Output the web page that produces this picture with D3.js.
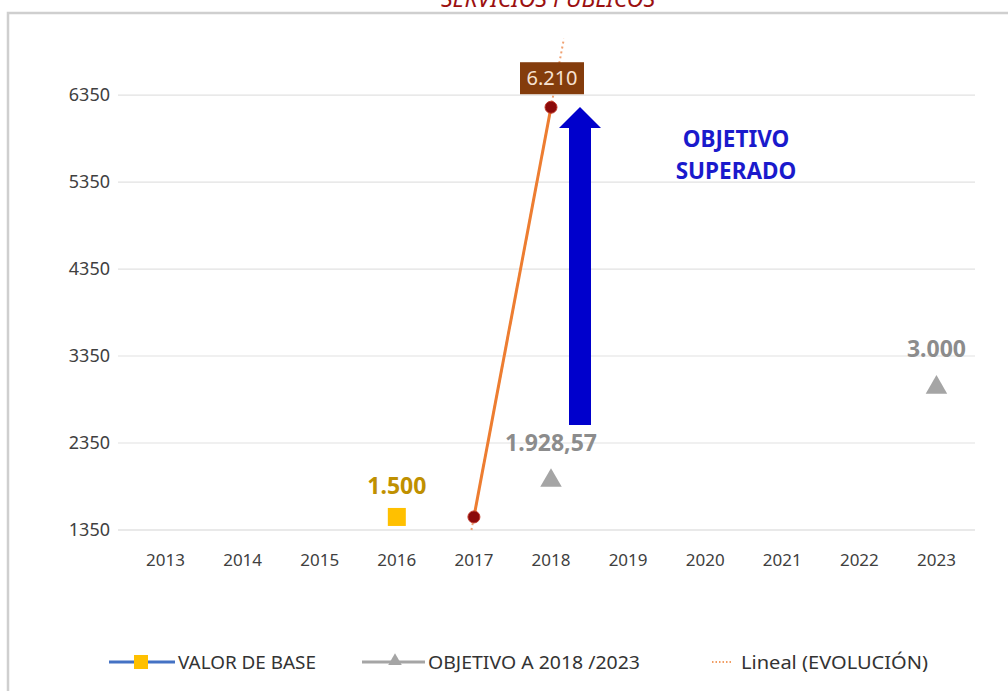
<!DOCTYPE html>
<html>
<head>
<meta charset="utf-8">
<script src="https://cdn.jsdelivr.net/npm/d3@7/dist/d3.min.js"></script>
<style>
  body { margin: 0; background: #fff; }
  text { font-family: "Noto Sans", "Open Sans", sans-serif; }
</style>
</head>
<body>
<div id="chart"></div>
<script>
var years = ["2013","2014","2015","2016","2017","2018","2019","2020","2021","2022","2023"];
var yTicks = [1350, 2350, 3350, 4350, 5350, 6350];
var baseValue = [{year: "2016", value: 1500, label: "1.500"}];
var targets = [{year: "2018", value: 1928.57, label: "1.928,57"}, {year: "2023", value: 3000, label: "3.000"}];
var evolution = [{year: "2017", value: 1500}, {year: "2018", value: 6210, label: "6.210"}];
var legendItems = ["VALOR DE BASE", "OBJETIVO A 2018 /2023", "Lineal (EVOLUCIÓN)"];

var width = 1008, height = 691;

var svg = d3.select("#chart").append("svg")
    .attr("width", width)
    .attr("height", height);

// chart frame
svg.append("rect")
    .attr("x", 8).attr("y", 13)
    .attr("width", 1010).attr("height", 700)
    .attr("fill", "#fff")
    .attr("stroke", "#cfcfcf")
    .attr("stroke-width", 2.5);

// title, cut at the top like the original
svg.append("text")
    .attr("x", 548).attr("y", 7)
    .attr("text-anchor", "middle")
    .attr("fill", "#9b1010")
    .attr("font-family", "Liberation Sans, Arial, sans-serif")
    .attr("font-style", "italic")
    .attr("font-size", 23)
    .text("SERVICIOS PÚBLICOS");

var x = d3.scaleBand().domain(years).range([127, 975]);
var xl = d3.scaleLinear().domain([2012.5, 2023.5]).range([127, 975]);
var y = d3.scaleLinear().domain([1350, 7000]).range([530, 38.5]);
function cx(yr) { return x(yr) + x.bandwidth() / 2; }

// gridlines
svg.append("g")
  .selectAll("line")
  .data(yTicks)
  .enter().append("line")
    .attr("x1", 118).attr("x2", 975)
    .attr("y1", function(d) { return y(d); })
    .attr("y2", function(d) { return y(d); })
    .attr("stroke", function(d) { return d === 1350 ? "#d4d4d4" : "#e2e2e2"; })
    .attr("stroke-width", 1.2);

// y labels
svg.append("g")
  .selectAll("text")
  .data(yTicks)
  .enter().append("text")
    .attr("x", 110)
    .attr("y", function(d) { return y(d) + 6; })
    .attr("text-anchor", "end")
    .attr("font-size", 18)
    .attr("fill", "#404040")
    .text(function(d) { return d; });

// x labels
svg.append("g")
  .selectAll("text")
  .data(years)
  .enter().append("text")
    .attr("x", function(d) { return cx(d); })
    .attr("y", 566)
    .attr("text-anchor", "middle")
    .attr("font-size", 17)
    .attr("fill", "#404040")
    .text(function(d) { return d; });

// linear trend (dotted) through the evolution points
var p0 = evolution[0], p1 = evolution[1];
var slope = (p1.value - p0.value) / (+p1.year - +p0.year);
var tStart = +p0.year + (y.domain()[0] - p0.value) / slope;
var tEnd = +p0.year + (y.domain()[1] - p0.value) / slope;
svg.append("line")
    .attr("x1", xl(tStart)).attr("y1", y(y.domain()[0]))
    .attr("x2", xl(tEnd)).attr("y2", y(y.domain()[1]))
    .attr("stroke", "#f0a070")
    .attr("stroke-width", 2)
    .attr("stroke-dasharray", "2,3");

// evolution line
svg.append("path")
    .datum(evolution)
    .attr("fill", "none")
    .attr("stroke", "#ed7d31")
    .attr("stroke-width", 3)
    .attr("d", d3.line()
        .x(function(d) { return cx(d.year); })
        .y(function(d) { return y(d.value); }));

svg.append("g")
  .selectAll("circle")
  .data(evolution)
  .enter().append("circle")
    .attr("cx", function(d) { return cx(d.year); })
    .attr("cy", function(d) { return y(d.value); })
    .attr("r", 6)
    .attr("fill", "#8b0a0a")
    .attr("stroke", "#c0392b")
    .attr("stroke-width", 1);

// 6.210 label box
var last = evolution[1];
svg.append("rect")
    .attr("x", cx(last.year) - 31).attr("y", y(last.value) - 45)
    .attr("width", 64).attr("height", 32)
    .attr("fill", "#843c0c");
svg.append("text")
    .attr("x", cx(last.year) + 1).attr("y", y(last.value) - 22)
    .attr("text-anchor", "middle")
    .attr("font-size", 20)
    .attr("fill", "#f7e2d2")
    .text(last.label);

// base value square
svg.append("g")
  .selectAll("rect")
  .data(baseValue)
  .enter().append("rect")
    .attr("x", function(d) { return cx(d.year) - 9; })
    .attr("y", function(d) { return y(d.value) - 9; })
    .attr("width", 18).attr("height", 18)
    .attr("fill", "#ffc000");
svg.append("g")
  .selectAll("text")
  .data(baseValue)
  .enter().append("text")
    .attr("x", function(d) { return cx(d.year); })
    .attr("y", function(d) { return y(d.value) - 23; })
    .attr("text-anchor", "middle")
    .attr("font-size", 23)
    .attr("font-weight", "bold")
    .attr("fill", "#bf9000")
    .text(function(d) { return d.label; });

// target triangles
var tri = d3.symbol().type(d3.symbolTriangle).size(200);
svg.append("g")
  .selectAll("path")
  .data(targets)
  .enter().append("path")
    .attr("d", tri)
    .attr("transform", function(d) { return "translate(" + cx(d.year) + "," + (y(d.value) + 1) + ")"; })
    .attr("fill", "#a5a5a5");
svg.append("g")
  .selectAll("text")
  .data(targets)
  .enter().append("text")
    .attr("x", function(d) { return cx(d.year); })
    .attr("y", function(d) { return y(d.value) - 29; })
    .attr("text-anchor", "middle")
    .attr("font-size", 23)
    .attr("font-weight", "bold")
    .attr("fill", "#8c8c8c")
    .text(function(d) { return d.label; });

// blue arrow
var ax = cx("2018") + 29;
svg.append("path")
    .attr("d", "M" + (ax - 11) + ",425 L" + (ax - 11) + ",128 L" + (ax - 21) + ",128 L" + ax + ",107 L" +
        (ax + 21) + ",128 L" + (ax + 11) + ",128 L" + (ax + 11) + ",425 Z")
    .attr("fill", "#0000cc");

svg.append("text")
    .attr("x", 736).attr("y", 147)
    .attr("text-anchor", "middle")
    .attr("font-size", 22.5)
    .attr("font-weight", "bold")
    .attr("fill", "#1a1acc")
    .text("OBJETIVO");
svg.append("text")
    .attr("x", 736).attr("y", 179)
    .attr("text-anchor", "middle")
    .attr("font-size", 22.5)
    .attr("font-weight", "bold")
    .attr("fill", "#1a1acc")
    .text("SUPERADO");

// legend
var lg = svg.append("g").attr("transform", "translate(0,662)");
lg.append("line").attr("x1", 109).attr("x2", 175).attr("y1", 0).attr("y2", 0)
    .attr("stroke", "#4472c4").attr("stroke-width", 3);
lg.append("rect").attr("x", 134).attr("y", -7).attr("width", 14).attr("height", 14).attr("fill", "#ffc000");
lg.append("text").attr("x", 178).attr("y", 7).attr("font-size", 18).attr("fill", "#333")
    .attr("textLength", 138).attr("lengthAdjust", "spacingAndGlyphs").text(legendItems[0]);

lg.append("line").attr("x1", 362).attr("x2", 425).attr("y1", 0).attr("y2", 0)
    .attr("stroke", "#a5a5a5").attr("stroke-width", 3);
lg.append("path").attr("d", d3.symbol().type(d3.symbolTriangle).size(80))
    .attr("transform", "translate(395,-1)").attr("fill", "#a5a5a5");
lg.append("text").attr("x", 428).attr("y", 7).attr("font-size", 18).attr("fill", "#333")
    .attr("textLength", 212).attr("lengthAdjust", "spacingAndGlyphs").text(legendItems[1]);

lg.append("line").attr("x1", 712).attr("x2", 732).attr("y1", 0).attr("y2", 0)
    .attr("stroke", "#ed7d31").attr("stroke-width", 1.5).attr("stroke-dasharray", "1.5,2");
lg.append("text").attr("x", 741).attr("y", 7).attr("font-size", 18).attr("fill", "#333")
    .attr("textLength", 187).attr("lengthAdjust", "spacingAndGlyphs").text(legendItems[2]);
</script>
</body>
</html>
